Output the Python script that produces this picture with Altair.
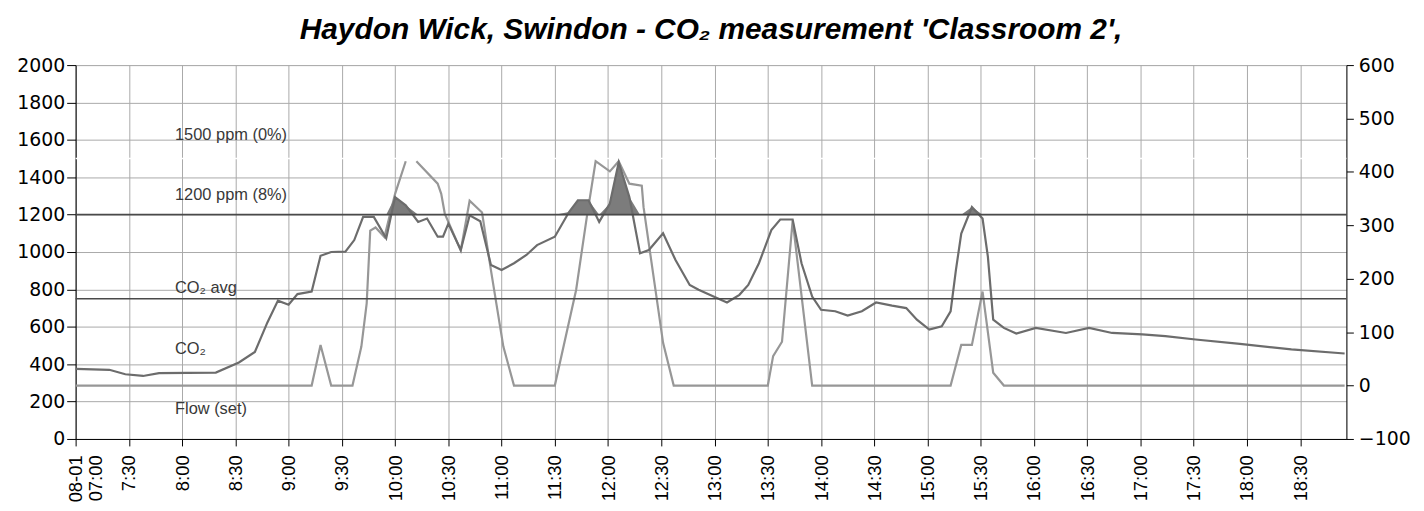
import altair as alt
import pandas as pd

# ---------------- data ----------------
co2_times = ["07:00","07:19","07:28","07:38","07:47","08:19","08:32","08:41","08:48","08:54",
             "09:00","09:05","09:13","09:18","09:24","09:32","09:37","09:42","09:48","09:55",
             "10:00","10:06","10:13","10:18","10:24","10:27","10:30","10:37","10:42","10:48",
             "10:54","11:00","11:07","11:14","11:20","11:30","11:38","11:43","11:49","11:55",
             "12:01","12:06","12:12","12:18","12:23","12:31","12:38","12:46","12:51","13:01",
             "13:07","13:14","13:19","13:25","13:32","13:37","13:44","13:49","13:55","14:00",
             "14:08","14:15","14:23","14:31","14:40","14:48","14:54","15:01","15:08","15:13",
             "15:16","15:19","15:25","15:31","15:34","15:37","15:43","15:50","16:01","16:18",
             "16:31","16:44","17:01","17:14","17:31","17:56","18:25","18:55"]
co2_values = [375,370,346,337,352,355,409,465,622,740,
              718,775,789,980,1000,1002,1064,1188,1188,1074,
              1294,1250,1161,1179,1082,1082,1152,1011,1196,1165,
              931,904,940,984,1037,1082,1214,1277,1277,1161,
              1259,1480,1294,993,1011,1100,957,824,798,755,
              730,771,824,940,1117,1174,1174,940,762,691,
              683,660,683,730,713,700,638,585,603,683,
              904,1099,1241,1179,975,638,594,564,594,567,
              594,567,559,550,532,509,479,457]

flow_times = ["07:00","09:13","09:18","09:24","09:36","09:41","09:44","09:46","09:49","09:54",
              "10:00","10:06","10:12","10:24","10:26","10:28","10:37","10:42","10:49","10:54",
              "11:01","11:07","11:30","11:42","11:48","11:53","12:01","12:06","12:12","12:19",
              "12:20","12:31","12:37","13:30","13:33","13:38","13:44","13:55","15:13","15:19",
              "15:25","15:31","15:37","15:43","18:55"]
flow_values = [0,0,76,0,0,73,154,290,296,278,
               359,420,420,378,359,322,253,346,324,216,
               73,0,0,179,315,420,401,420,378,374,
               334,80,0,0,55,82,309,0,0,76,
               76,176,24,0,0]
flow_segment = [1]*12 + [2]*33

ref_names = ["1500 ppm", "1200 ppm", "CO2 avg"]
ref_values = [1500, 1200, 750]

label_texts = ["1500 ppm (0%)", "1200 ppm (8%)", "CO\u2082 avg", "CO\u2082", "Flow (set)"]
label_times = ["07:56", "07:56", "07:56", "07:56", "07:56"]
label_values = [1628, 1303, 809, 479, 160]

tick_times = ["07:00","07:30","08:00","08:30","09:00","09:30","10:00","10:30","11:00","11:30",
              "12:00","12:30","13:00","13:30","14:00","14:30","15:00","15:30","16:00","16:30",
              "17:00","17:30","18:00","18:30"]
end_time = "18:56"
left_ticks = [0,200,400,600,800,1000,1200,1400,1600,1800,2000]
right_ticks = [-100,0,100,200,300,400,500,600]


def mins(t):
    h, m = t.split(":")
    return (int(h) - 7) * 60 + int(m)


co2_df = pd.DataFrame({"m": [mins(t) for t in co2_times], "co2": co2_values})
flow_df = pd.DataFrame({"m": [mins(t) for t in flow_times], "flow": flow_values,
                        "seg": flow_segment})
lab_df = pd.DataFrame({"m": [mins(t) for t in label_times], "v": label_values,
                       "txt": label_texts})
ref_df = pd.DataFrame({"name": ref_names, "v": ref_values})

# ---------------- styles ----------------
FONT_AX = "DejaVu Sans"
xdomain = [0, mins(end_time)]
x_axis = alt.Axis(values=[mins(t) for t in tick_times], grid=True, gridColor="#a9a9a9",
                  gridWidth=1, labelAngle=270, labelFont="Liberation Sans", labelFontSize=18.5,
                  labelColor="#000", tickColor="#000", tickSize=7, labelPadding=9,
                  domainColor="#000", title=None,
                  labelExpr="datum.value == 0 ? ['08-01', '07:00'] : (floor(datum.value/60)+7) + ':' + (datum.value % 60 == 0 ? '00' : '30')")
y_axis = alt.Axis(values=left_ticks, grid=True, gridColor="#a9a9a9", gridWidth=1,
                  format="d",
                  labelFont=FONT_AX, labelFontSize=19, labelColor="#000", tickColor="#000",
                  tickSize=9, labelPadding=2, domainColor="#000", title=None)
X = alt.X("m:Q", scale=alt.Scale(domain=xdomain, nice=False, zero=False), axis=x_axis)
ysc = alt.Scale(domain=[0, 2000], nice=False)

fill = alt.Chart(co2_df).transform_calculate(top="max(datum.co2, 1200)").mark_area(
    color="#7c7c7c", opacity=1, interpolate="linear"
).encode(x=X, y=alt.Y("top:Q", scale=ysc, axis=y_axis), y2=alt.datum(1200))

ref_white = alt.Chart(ref_df).transform_filter("datum.v == 1500").mark_rule(
    color="#ffffff", strokeWidth=1.5
).encode(y=alt.Y("v:Q", scale=ysc, axis=y_axis))

ref_dark = alt.Chart(ref_df).transform_filter("datum.v != 1500").mark_rule(
    color="#4a4a4a", strokeWidth=1.6
).encode(y=alt.Y("v:Q", scale=ysc, axis=y_axis))

co2_line = alt.Chart(co2_df).mark_line(color="#6c6c6c", strokeWidth=2.2).encode(
    x=X, y=alt.Y("co2:Q", scale=ysc, axis=y_axis)
)

labels = alt.Chart(lab_df).mark_text(
    align="left", baseline="middle", font="Liberation Sans", fontSize=16.5,
    color="#383838"
).encode(x=X, y=alt.Y("v:Q", scale=ysc, axis=y_axis), text="txt:N")

left = alt.layer(fill, ref_white, co2_line, ref_dark, labels)

flow_line = alt.Chart(flow_df).mark_line(color="#979797", strokeWidth=2.2).encode(
    x=X,
    y=alt.Y("flow:Q", scale=alt.Scale(domain=[-100, 600], nice=False),
            axis=alt.Axis(orient="right", values=right_ticks, grid=False,
                          labelFont=FONT_AX, labelFontSize=19, labelColor="#000",
                          tickColor="#000", tickSize=7, labelPadding=5,
                          domainColor="#000", title=None)),
    detail="seg:N",
)

chart = alt.layer(flow_line, left).resolve_scale(y="independent").properties(
    width=1278, height=376,
    autosize=alt.AutoSizeParams(type="none"),
    padding={"left": 68, "top": 56, "right": 70, "bottom": 63},
    title=alt.TitleParams(
        "Haydon Wick, Swindon - CO\u2082 measurement 'Classroom 2',",
        font="Liberation Sans", fontSize=30, fontStyle="italic", fontWeight="bold",
        color="#000", anchor="middle", offset=11,
    ),
).configure_view(fill="#e2e2e2", stroke="#000", strokeWidth=1.2).configure(
    background="#ffffff"
)

chart.save("out.html", embed_options={"renderer": "svg", "actions": False})
